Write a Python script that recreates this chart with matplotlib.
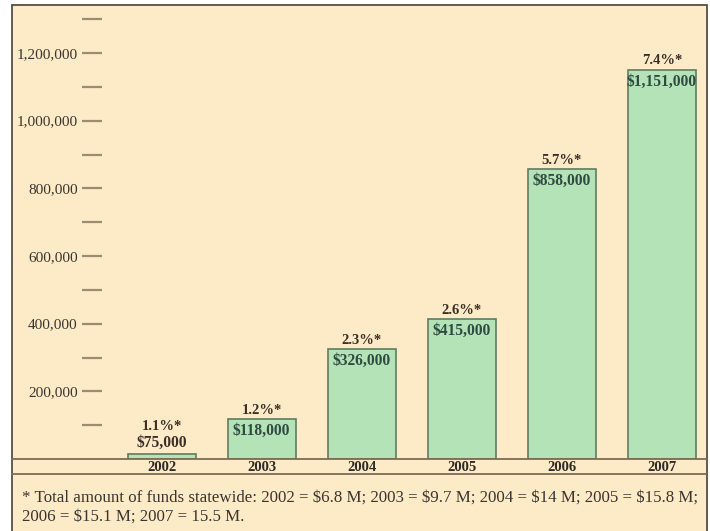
import matplotlib
matplotlib.use("Agg")
import matplotlib.pyplot as plt
from matplotlib.lines import Line2D
from matplotlib.patches import Rectangle

plt.rcParams['font.family'] = ['Liberation Serif', 'DejaVu Serif']
plt.rcParams['text.parse_math'] = False

# --- data ---
years = ['2002', '2003', '2004', '2005', '2006', '2007']
amounts = [75000, 118000, 326000, 415000, 858000, 1151000]
# bar heights as drawn (the 2002 bar is drawn far shorter than its label)
bar_heights = [15000, 118000, 326000, 415000, 858000, 1151000]
amount_labels = ['$75,000', '$118,000', '$326,000', '$415,000', '$858,000', '$1,151,000']
pct_labels = ['1.1%', '1.2%', '2.3%', '2.6%', '5.7%', '7.4%']
yticks = list(range(100000, 1300001, 100000))
ytick_labels = ['' if v % 200000 else f'{v:,}' for v in yticks]
footnote = ('* Total amount of funds statewide: 2002 = $6.8 M; 2003 = $9.7 M; '
            '2004 = $14 M; 2005 = $15.8 M;\n2006 = $15.1 M; 2007 = 15.5 M.')

W, H = 710, 531
BG = '#fdeac6'
BAR = '#b3e3b6'
EDGE = '#5f7b62'
TICK = '#9d8c6f'
LINE = '#7d6b55'


def fx(px):
    return px / W


def fy(py):
    return 1 - py / H


fig = plt.figure(figsize=(W / 100, H / 100), dpi=100)
fig.patch.set_facecolor('white')
fig.add_artist(Rectangle((fx(11.5), fy(540)), fx(706.5) - fx(11.5), fy(4.5) - fy(540),
                         transform=fig.transFigure, facecolor=BG,
                         edgecolor='#555048', linewidth=1.3, zorder=0))

# axes: left edge where the tick marks end, bottom at the baseline
ax = fig.add_axes([fx(102), fy(459), fx(706) - fx(102), fy(5) - fy(459)])
ax.set_facecolor('none')
x = list(range(len(years)))
ax.bar(x, bar_heights, width=0.68, color=BAR, edgecolor=EDGE, linewidth=1.2, zorder=2)
ax.set_xlim(-0.595, 5.44)
ax.set_ylim(0, 1200000 * (459 - 5) / 406)

for s in ax.spines.values():
    s.set_visible(False)
ax.set_xticks([])
ax.set_yticks(yticks)
ax.set_yticklabels(ytick_labels, fontsize=11, color='#3a3530')
ax.tick_params(axis='y', length=14.4, width=1.6, color=TICK, pad=3)

for i, (h, amt, pct) in enumerate(zip(bar_heights, amount_labels, pct_labels)):
    if h > 60000:
        ax.annotate(amt, (i, h), xytext=(0, -3), textcoords='offset points',
                    ha='center', va='top', fontsize=11.2, fontweight='bold',
                    color='#2f4a40', zorder=3)
        ax.annotate(pct + '*', (i, h), xytext=(0, 1.5), textcoords='offset points',
                    ha='center', va='bottom', fontsize=10.5, fontweight='bold',
                    color='#3a2f28', zorder=3)
    else:
        ax.annotate(amt, (i, h), xytext=(0, 2), textcoords='offset points',
                    ha='center', va='bottom', fontsize=11.2, fontweight='bold',
                    color='#3a2f28', zorder=3)
        ax.annotate(pct + '*', (i, h), xytext=(0, 15), textcoords='offset points',
                    ha='center', va='bottom', fontsize=10.5, fontweight='bold',
                    color='#3a2f28', zorder=3)
    ax.annotate(years[i], (i, 0), xytext=(0, -6), textcoords='offset points',
                ha='center', va='center', fontsize=10.5, fontweight='bold',
                color='#2e2a26', annotation_clip=False)

# baseline and the rule under the year labels
for py in (459, 474):
    fig.add_artist(Line2D([fx(12), fx(706)], [fy(py), fy(py)],
                          transform=fig.transFigure, color=LINE, linewidth=1.3))

fig.text(fx(22), fy(490), footnote, ha='left', va='top', fontsize=12.2,
         color='#3a3530', linespacing=1.25)

fig.savefig('out.png', dpi=100, facecolor=fig.get_facecolor())
